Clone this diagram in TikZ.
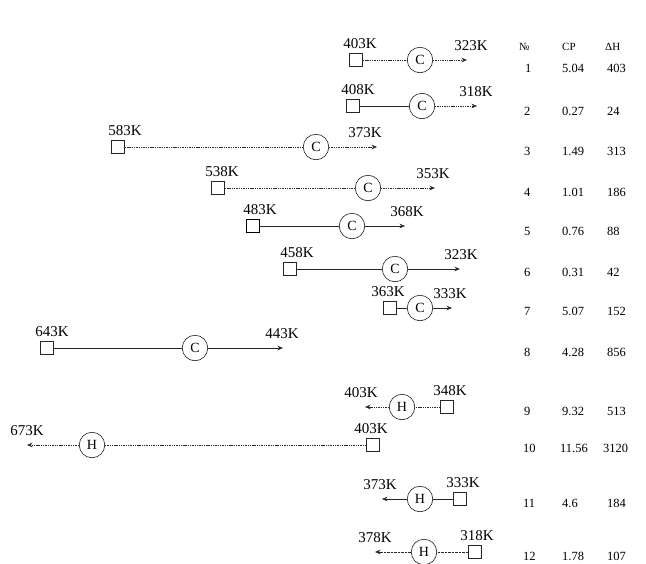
\documentclass[tikz,border=0pt]{standalone}
\usepackage{fontspec}
\setmainfont{Liberation Serif}
\usetikzlibrary{arrows.meta}
\tikzset{
  hxsq/.style={draw=black!85, line width=0.6pt, minimum size=13pt, inner sep=0pt},
  exch/.style={circle, draw=black!90, line width=0.6pt, minimum size=25.5pt, inner sep=0pt, font=\fontsize{14}{14}\selectfont},
  conn/.style={draw=black!85, line width=0.55pt},
  dotline/.style={dash pattern=on 1.4pt off 0.9pt},
  flow/.style={conn, -{Stealth[length=5.5pt,width=4.5pt]}},
  tlab/.style={font=\fontsize{15}{15}\selectfont, inner sep=0pt, anchor=south},
  tab/.style={font=\fontsize{12.5}{12.5}\selectfont, inner sep=0pt, anchor=west},
  head/.style={font=\fontsize{11}{11}\selectfont, inner sep=0pt, anchor=west}
}
\begin{document}
\begin{tikzpicture}[x=1pt,y=-1pt]
\useasboundingbox (0,0) rectangle (646,563);
% ---------- header ----------
\node[head] (hn) at (519,47) {№};
\node[head] (hcp) at (562,47) {CP};
\node[head] (hdh) at (605,47) {ΔH};
% ---------- row 1 ----------
\node[hxsq] (s1) at (356,60) {};
\node[exch] (c1) at (420,60) {C};
\coordinate (e1) at (467,60);
\draw[conn,dotline] (s1) -- (c1);
\draw[flow,dotline] (c1) -- (e1);
\node[tlab] (i1) at ([xshift=4pt,yshift=4pt]s1.north) {403K};
\node[tlab] (o1) at ([xshift=4pt,yshift=9pt]e1) {323K};
% ---------- row 2 ----------
\node[hxsq] (s2) at (353,106) {};
\node[exch] (c2) at (422,106) {C};
\coordinate (e2) at (477,106);
\draw[conn] (s2) -- (c2);
\draw[flow,dotline] (c2) -- (e2);
\node[tlab] (i2) at ([xshift=5pt,yshift=4pt]s2.north) {408K};
\node[tlab] (o2) at ([xshift=-1pt,yshift=9pt]e2) {318K};
% ---------- row 3 ----------
\node[hxsq] (s3) at (118,147) {};
\node[exch] (c3) at (316,147) {C};
\coordinate (e3) at (377,147);
\draw[conn,dotline] (s3) -- (c3);
\draw[flow,dotline] (c3) -- (e3);
\node[tlab] (i3) at ([xshift=7pt,yshift=4pt]s3.north) {583K};
\node[tlab] (o3) at ([xshift=-12pt,yshift=9pt]e3) {373K};
% ---------- row 4 ----------
\node[hxsq] (s4) at (218,188) {};
\node[exch] (c4) at (368,188) {C};
\coordinate (e4) at (435,188);
\draw[conn,dotline] (s4) -- (c4);
\draw[flow,dotline] (c4) -- (e4);
\node[tlab] (i4) at ([xshift=4pt,yshift=4pt]s4.north) {538K};
\node[tlab] (o4) at ([xshift=-2pt,yshift=9pt]e4) {353K};
% ---------- row 5 ----------
\node[hxsq,draw=black] (s5) at (253,226) {};
\node[exch] (c5) at (352,226) {C};
\coordinate (e5) at (405,226);
\draw[conn] (s5) -- (c5);
\draw[flow] (c5) -- (e5);
\node[tlab] (i5) at ([xshift=7pt,yshift=4pt]s5.north) {483K};
\node[tlab] (o5) at ([xshift=2pt,yshift=9pt]e5) {368K};
% ---------- row 6 ----------
\node[hxsq] (s6) at (290,269) {};
\node[exch] (c6) at (395,269) {C};
\coordinate (e6) at (460,269);
\draw[conn,line width=0.8pt] (s6) -- (c6);
\draw[flow,line width=0.8pt] (c6) -- (e6);
\node[tlab] (i6) at ([xshift=7pt,yshift=4pt]s6.north) {458K};
\node[tlab] (o6) at ([xshift=1pt,yshift=9pt]e6) {323K};
% ---------- row 7 ----------
\node[hxsq] (s7) at (390,308) {};
\node[exch] (c7) at (420,308) {C};
\coordinate (e7) at (452,308);
\draw[conn] (s7) -- (c7);
\draw[flow] (c7) -- (e7);
\node[tlab] (i7) at ([xshift=-2pt,yshift=4pt]s7.north) {363K};
\node[tlab] (o7) at ([xshift=-2pt,yshift=9pt]e7) {333K};
% ---------- row 8 ----------
\node[hxsq] (s8) at (47,348) {};
\node[exch] (c8) at (195,348) {C};
\coordinate (e8) at (283,348);
\draw[conn] (s8) -- (c8);
\draw[flow] (c8) -- (e8);
\node[tlab] (i8) at ([xshift=5pt,yshift=4pt]s8.north) {643K};
\node[tlab] (o8) at ([xshift=-1pt,yshift=9pt]e8) {443K};
% ---------- row 9 ----------
\node[hxsq] (s9) at (447,407) {};
\node[exch] (c9) at (402,407) {H};
\coordinate (e9) at (365,407);
\draw[conn,dotline] (s9) -- (c9);
\draw[flow,dotline] (c9) -- (e9);
\node[tlab] (i9) at ([xshift=3pt,yshift=4pt]s9.north) {348K};
\node[tlab] (o9) at ([xshift=-4pt,yshift=9pt]e9) {403K};
% ---------- row 10 ----------
\node[hxsq] (s10) at (373,445) {};
\node[exch] (c10) at (92,445) {H};
\coordinate (e10) at (27,445);
\draw[conn,dotline] (s10) -- (c10);
\draw[flow,dotline] (c10) -- (e10);
\node[tlab] (i10) at ([xshift=-2pt,yshift=4pt]s10.north) {403K};
\node[tlab] (o10) at ([xshift=0pt,yshift=9pt]e10) {673K};
% ---------- row 11 ----------
\node[hxsq] (s11) at (460,499) {};
\node[exch] (c11) at (420,499) {H};
\coordinate (e11) at (382,499);
\draw[conn] (s11) -- (c11);
\draw[flow] (c11) -- (e11);
\node[tlab] (i11) at ([xshift=3pt,yshift=4pt]s11.north) {333K};
\node[tlab] (o11) at ([xshift=-2pt,yshift=9pt]e11) {373K};
% ---------- row 12 ----------
\node[hxsq] (s12) at (475,552) {};
\node[exch] (c12) at (424,552) {H};
\coordinate (e12) at (375,552);
\draw[conn,dash pattern=on 2.5pt off 1pt] (s12) -- (c12);
\draw[flow,dash pattern=on 2.5pt off 1pt] (c12) -- (e12);
\node[tlab] (i12) at ([xshift=2pt,yshift=4pt]s12.north) {318K};
\node[tlab] (o12) at ([xshift=0pt,yshift=9pt]e12) {378K};
% ---------- table ----------
\node[tab] (n1) at (525,68) {1};
\node[tab] (p1) at (562,68) {5.04};
\node[tab] (h1) at (607,68) {403};
\node[tab] (n2) at (524,111) {2};
\node[tab] (p2) at (562,111) {0.27};
\node[tab] (h2) at (607,111) {24};
\node[tab] (n3) at (524,151) {3};
\node[tab] (p3) at (562,151) {1.49};
\node[tab] (h3) at (607,151) {313};
\node[tab] (n4) at (524,192) {4};
\node[tab] (p4) at (562,192) {1.01};
\node[tab] (h4) at (607,192) {186};
\node[tab] (n5) at (524,231) {5};
\node[tab] (p5) at (562,231) {0.76};
\node[tab] (h5) at (607,231) {88};
\node[tab] (n6) at (524,272) {6};
\node[tab] (p6) at (562,272) {0.31};
\node[tab] (h6) at (607,272) {42};
\node[tab] (n7) at (524,311) {7};
\node[tab] (p7) at (562,311) {5.07};
\node[tab] (h7) at (607,311) {152};
\node[tab] (n8) at (524,352) {8};
\node[tab] (p8) at (562,352) {4.28};
\node[tab] (h8) at (607,352) {856};
\node[tab] (n9) at (524,411) {9};
\node[tab] (p9) at (562,411) {9.32};
\node[tab] (h9) at (607,411) {513};
\node[tab] (n10) at (523,448) {10};
\node[tab] (p10) at (560,448) {11.56};
\node[tab] (h10) at (603,448) {3120};
\node[tab] (n11) at (523,503) {11};
\node[tab] (p11) at (562,503) {4.6};
\node[tab] (h11) at (607,503) {184};
\node[tab] (n12) at (523,556) {12};
\node[tab] (p12) at (562,556) {1.78};
\node[tab] (h12) at (607,556) {107};
\end{tikzpicture}
\end{document}
